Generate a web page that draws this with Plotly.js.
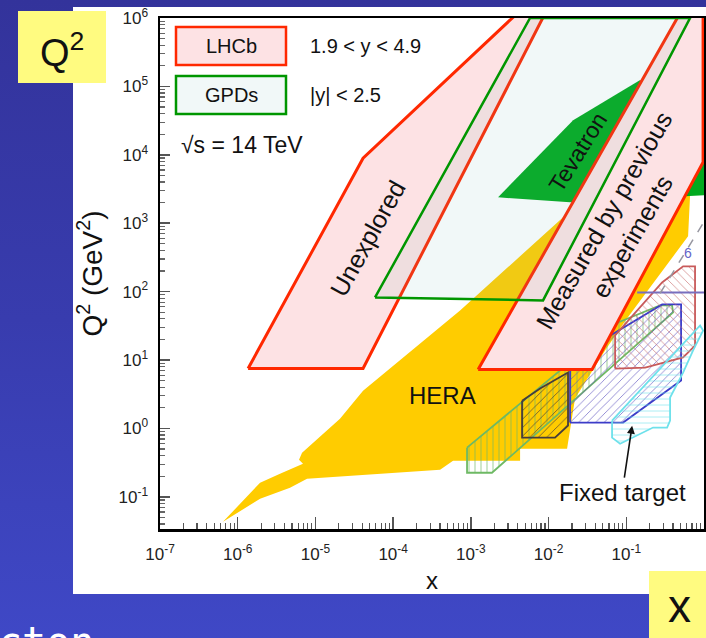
<!DOCTYPE html>
<html><head><meta charset="utf-8">
<script src="https://cdn.plot.ly/plotly-3.0.1.min.js"></script>
<style>
html,body{margin:0;padding:0;width:706px;height:638px;overflow:hidden;
background:linear-gradient(to bottom,#33339b 0%,#383cae 50%,#3f48c6 100%);}
#chart{width:706px;height:638px;}
</style></head><body><div id="chart"></div>
<script>
// ---- data (x, Q^2 in GeV^2) ----
const xTickVals = [1e-7, 1e-6, 1e-5, 1e-4, 1e-3, 1e-2, 1e-1, 1];
const xTickText = ['10<sup>-7</sup>','10<sup>-6</sup>','10<sup>-5</sup>','10<sup>-4</sup>','10<sup>-3</sup>','10<sup>-2</sup>','10<sup>-1</sup>','10<sup>0</sup>'];
const yTickVals = [0.1, 1, 10, 100, 1e3, 1e4, 1e5, 1e6];
const yTickText = ['10<sup>-1</sup>','10<sup>0</sup>','10<sup>1</sup>','10<sup>2</sup>','10<sup>3</sup>','10<sup>4</sup>','10<sup>5</sup>','10<sup>6</sup>'];

const heraX  = [6.47e-7, 1.94e-6, 3.50e-6, 6.92e-6, 6.15e-6, 6.73e-6, 2.07e-5, 4.10e-5, 7.26e-4, 1.54e-2, 4.60e-2, 0.662, 0.624, 0.102, 5.33e-2, 2.19e-2, 1.73e-2, 4.30e-3, 4.30e-3, 5.90e-4, 4.02e-4, 2.79e-5, 7.80e-6, 4.71e-6, 1.94e-6, 6.47e-7];
const heraQ2 = [0.0432, 0.161, 0.218, 0.305, 0.349, 0.443, 1.39, 3.57, 53.1, 1219, 2163, 2559, 643, 40.6, 13.8, 2.73, 0.506, 0.506, 0.338, 0.338, 0.249, 0.204, 0.184, 0.136, 0.0938, 0.0432];

const tevX  = [2.24e-3, 2.07e-2, 0.151, 1.0, 1.0, 1.89e-2, 2.24e-3];
const tevQ2 = [2393, 3.21e4, 1.24e5, 8337, 2559, 2023, 2393];

const lhcbLeftX  = [1.36e-6, 4.10e-5, 4.99e-3, 1.01e-2, 4.10e-5, 1.36e-6];
const lhcbLeftQ2 = [7.51, 8913, 1.5e6, 1.5e6, 7.51, 7.51];
const lhcbRightX  = [1.24e-3, 0.555, 0.973, 0.973, 3.63e-2, 1.24e-3];
const lhcbRightQ2 = [7.26, 1.5e6, 1.5e6, 7798, 7.26, 7.26];

const gpdX  = [5.85e-5, 5.78e-3, 0.662, 8.49e-3, 5.85e-5];
const gpdQ2 = [82.2, 1e6, 1e6, 74.3, 82.2];

const ftBlackX  = [4.56e-3, 7.78e-3, 1.78e-2, 1.78e-2, 1.21e-2, 4.56e-3, 4.56e-3];
const ftBlackQ2 = [2.55, 3.83, 6.56, 1.10, 0.733, 0.733, 2.55];
const ftBlueX  = [1.89e-2, 0.091, 0.507, 0.507, 0.289, 6.56e-2, 1.89e-2, 1.89e-2];
const ftBlueQ2 = [1.22, 1.22, 5.01, 65.0, 65.0, 23.6, 8.30, 1.22];
const ftRedX  = [7.18e-2, 7.18e-2, 0.289, 0.538, 0.767, 0.767, 0.538, 0.175, 7.18e-2];
const ftRedQ2 = [7.51, 22.9, 136, 234, 234, 16.3, 10.9, 7.76, 7.51];
const ftCyanX  = [6.56e-2, 6.56e-2, 8.32e-2, 0.221, 0.335, 0.366, 0.366, 0.538, 0.724, 0.973, 0.891, 6.56e-2];
const ftCyanQ2 = [1.30, 0.733, 0.598, 1.03, 1.03, 1.30, 2.83, 6.56, 13.8, 27.0, 32.0, 1.30];
const ftGreenX  = [8.93e-4, 8.93e-4, 1.87e-3, 0.400, 0.388, 0.272, 7.83e-2, 8.93e-4];
const ftGreenQ2 = [0.524, 0.225, 0.225, 49.6, 62.8, 62.8, 35.4, 0.524];

const purpleLineX  = [0.138, 1.0];
const purpleLineQ2 = [97.3, 97.3];
const dashLineX  = [0.272, 0.973];
const dashLineQ2 = [94.2, 998];

// ---- helpers ----
const FONT = 'Liberation Sans, Arial, sans-serif';
function poly(x, y, fill, line, lw, extra) {
  return Object.assign({
    type: 'scatter', mode: 'lines', x: x, y: y, fill: 'toself',
    fillcolor: fill, line: {color: line, width: lw}, hoverinfo: 'skip', showlegend: false
  }, extra || {});
}
function hatch(x, y, lineColor, shape, fg) {
  return poly(x, y, 'rgba(0,0,0,0)', lineColor, 1.8, {
    fillpattern: {shape: shape, fgcolor: fg, bgcolor: 'rgba(0,0,0,0)', size: 6, solidity: 0.15}
  });
}
function minorVals(k0, k1) {
  const v = [];
  for (let k = k0; k <= k1; k++) for (let m = 2; m <= 9; m++) v.push(m * Math.pow(10, k));
  return v;
}

const traces = [
  poly(heraX, heraQ2, 'rgb(255,204,0)', 'rgba(0,0,0,0)', 0),
  poly(tevX, tevQ2, 'rgb(0,170,30)', 'rgba(0,0,0,0)', 0),
  hatch(ftGreenX, ftGreenQ2, 'rgb(110,185,100)', '|', 'rgba(110,185,100,0.75)'),
  hatch(ftBlackX, ftBlackQ2, 'rgb(70,60,60)', '/', 'rgba(70,60,60,0.75)'),
  hatch(ftBlueX, ftBlueQ2, 'rgb(60,60,200)', '/', 'rgba(90,80,190,0.7)'),
  hatch(ftRedX, ftRedQ2, 'rgb(200,90,90)', '\\', 'rgba(200,110,110,0.7)'),
  hatch(ftCyanX, ftCyanQ2, 'rgb(110,225,235)', '-', 'rgba(110,225,235,0.65)'),
  {type:'scatter', mode:'lines', x: purpleLineX, y: purpleLineQ2, line:{color:'rgb(120,110,190)', width:2}, hoverinfo:'skip', showlegend:false},
  {type:'scatter', mode:'lines', x: dashLineX, y: dashLineQ2, line:{color:'rgb(150,150,160)', width:1.5, dash:'dash'}, hoverinfo:'skip', showlegend:false},
  poly(lhcbLeftX, lhcbLeftQ2, 'rgb(253,226,228)', 'rgb(255,40,0)', 3),
  poly(lhcbRightX, lhcbRightQ2, 'rgb(253,226,228)', 'rgb(255,40,0)', 3),
  poly(gpdX, gpdQ2, 'rgba(115,185,185,0.1)', 'rgb(0,150,0)', 2.5)
];

// paper helpers (plot area: x 160..704 px, y 18..529 px)
const px = v => (v - 160) / 544;
const py = v => (529 - v) / 511;

const shapes = [
  {type:'rect', xref:'paper', yref:'paper', x0:px(73), x1:px(708), y0:py(594), y1:py(7), fillcolor:'white', line:{width:0}, layer:'below'},
  {type:'rect', xref:'paper', yref:'paper', x0:px(18), x1:px(106), y0:py(83), y1:py(11), fillcolor:'#FFFB80', line:{width:0}, layer:'below'},
  {type:'rect', xref:'paper', yref:'paper', x0:px(649), x1:px(708), y0:py(640), y1:py(571), fillcolor:'#FFFB80', line:{width:0}, layer:'below'},
  {type:'rect', xref:'paper', yref:'paper', x0:px(176), x1:px(286), y0:py(65), y1:py(27), fillcolor:'rgb(253,226,228)', line:{color:'rgb(255,40,0)', width:2.5}},
  {type:'rect', xref:'paper', yref:'paper', x0:px(176), x1:px(286), y0:py(114), y1:py(76), fillcolor:'rgb(241,248,248)', line:{color:'rgb(0,150,0)', width:2.5}}
];

const txt = (text, x, y, size, extra) => Object.assign({
  text: text, x: x, y: y, xref: 'paper', yref: 'paper', showarrow: false,
  xanchor: 'center', yanchor: 'middle',
  font: {family: FONT, size: size, color: '#111'}
}, extra || {});

const annotations = [
  txt('LHCb', px(231), py(46), 20),
  txt('GPDs', px(231), py(95), 20),
  txt('1.9 < y < 4.9', px(308), py(46), 20, {xanchor:'left'}),
  txt('|y| < 2.5', px(308), py(95), 20, {xanchor:'left'}),
  txt('√s = 14 TeV', px(179), py(145), 23, {xanchor:'left'}),
  {text:'Unexplored', x:-4.323, y:2.779, xref:'x', yref:'y', showarrow:false, textangle:-61, font:{family:FONT, size:25, color:'#111'}},
  {text:'Tevatron', x:-1.620, y:4.038, xref:'x', yref:'y', showarrow:false, textangle:-58, font:{family:FONT, size:23, color:'#111'}},
  {text:'Measured by previous<br>experiments', x:-1.106, y:2.925, xref:'x', yref:'y', showarrow:false, textangle:-60, font:{family:FONT, size:25, color:'#111'}},
  {text:'HERA', x:-3.371, y:0.480, xref:'x', yref:'y', showarrow:false, font:{family:FONT, size:24, color:'#111'}},
  {text:'6', x:-0.205, y:2.559, xref:'x', yref:'y', showarrow:false, font:{family:FONT, size:14, color:'rgb(100,100,200)'}},
  {text:'Fixed target', x:-0.925, y:0.041, xref:'x', yref:'y', showarrow:true, ax:-10, ay:67,
   arrowhead:2, arrowsize:1, arrowwidth:1.6, arrowcolor:'#111', standoff:0, font:{family:FONT, size:24, color:'#111'}},
  txt('Q<sup>2</sup>', px(62), py(50), 38),
  txt('x', px(679), py(606), 46),
  txt('cton', px(-4), py(642), 40, {xanchor:'left', font:{family:'DejaVu Sans Mono, monospace', size:40, color:'white'}})
];

const axisCommon = {
  type: 'log', showgrid: false, zeroline: false, showline: true, mirror: true,
  linecolor: 'black', linewidth: 2.5, ticks: 'inside', tickcolor: '#555', tickwidth: 1.5,
  tickmode: 'array', tickfont: {family: FONT, size: 17, color: '#222'}
};

const layout = {
  width: 706, height: 638,
  margin: {l: 160, r: 2, t: 18, b: 109, pad: 0},
  paper_bgcolor: 'rgba(0,0,0,0)', plot_bgcolor: 'rgba(0,0,0,0)',
  showlegend: false,
  xaxis: Object.assign({}, axisCommon, {
    range: [-7, 0], tickvals: xTickVals, ticktext: xTickText, ticklen: 12,
    ticklabelstandoff: 8,
    minor: {tickvals: minorVals(-7, -1), ticks: 'inside', ticklen: 6, tickcolor: '#555', tickwidth: 1.2},
    title: {text: 'x', font: {family: FONT, size: 24, color: '#111'}, standoff: 10}
  }),
  yaxis: Object.assign({}, axisCommon, {
    range: [-1.47, 6], tickvals: yTickVals, ticktext: yTickText, ticklen: 10,
    ticklabelstandoff: 6,
    minor: {tickvals: minorVals(-2, 5), ticks: 'inside', ticklen: 5, tickcolor: '#666', tickwidth: 1.2},
    title: {text: 'Q<sup>2</sup> (GeV<sup>2</sup>)', font: {family: FONT, size: 28, color: '#111'}, standoff: 8}
  }),
  shapes: shapes,
  annotations: annotations
};

Plotly.newPlot('chart', traces, layout, {staticPlot: true, displayModeBar: false});
</script></body></html>
